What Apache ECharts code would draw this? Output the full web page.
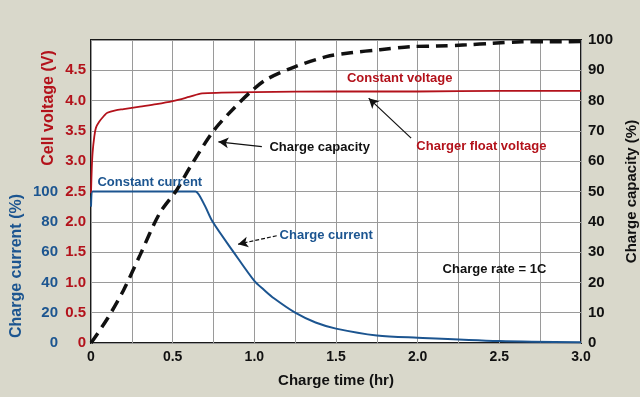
<!DOCTYPE html>
<html>
<head>
<meta charset="utf-8">
<script src="https://cdn.jsdelivr.net/npm/echarts@6/dist/echarts.min.js"></script>
<style>
    html, body { margin: 0; padding: 0; background: #d9d8cb; }
    #chart { width: 640px; height: 397px; }
</style>
</head>
<body>
<div id="chart"></div>
<script>
// cell voltage (V) vs charge time (hr)
const timeV = [0, 0.005, 0.01, 0.02, 0.03, 0.05, 0.08, 0.1, 0.15, 0.2, 0.3, 0.4, 0.5, 0.6, 0.68, 0.8, 1.0, 1.5, 2.0, 2.5, 3.0];
const voltage = [2.47, 2.9, 3.15, 3.4, 3.55, 3.65, 3.75, 3.8, 3.84, 3.86, 3.9, 3.94, 3.99, 4.06, 4.12, 4.13, 4.14, 4.15, 4.15, 4.16, 4.16];

// charge current (%)
const timeI = [0, 0.01, 0.03, 0.64, 0.66, 0.7, 0.745, 0.873, 1.0, 1.06, 1.12, 1.25, 1.375, 1.5, 1.75, 2.0, 2.5, 3.0];
const current = [90, 100, 100, 100, 98, 90, 80, 60, 41, 35, 29.5, 20, 13.5, 9.5, 5, 3.5, 1.3, 0.5];

// charge capacity (%)
const timeC = [0, 0.1, 0.2, 0.3, 0.42, 0.525, 0.606, 0.75, 0.875, 0.99, 1.075, 1.24, 1.44, 1.59, 1.77, 1.95, 2.12, 2.3, 2.46, 2.64, 2.81, 3.0];
const capacity = [0, 8, 17.5, 29, 42.8, 50.5, 58, 70, 77.5, 83.5, 87, 91, 94.5, 95.8, 96.8, 97.8, 98, 98.4, 98.9, 99.4, 99.4, 99.5];

// annotations, in [time, volts]
const notes = [
    {text: "Constant voltage", at: [1.89, 4.36], color: "#b3121b"},
    {text: "Charger float voltage", at: [2.39, 3.25], color: "#b3121b"},
    {text: "Charge capacity", at: [1.40, 3.23], color: "#111"},
    {text: "Constant current", at: [0.36, 2.65], color: "#1c5590"},
    {text: "Charge current", at: [1.44, 1.78], color: "#1c5590"},
    {text: "Charge rate = 1C", at: [2.47, 1.22], color: "#111"},
];
const arrows = [
    {from: [1.96, 3.38], to: [1.70, 4.04], dashed: false},
    {from: [1.046, 3.24], to: [0.78, 3.32], dashed: false},
    {from: [1.137, 1.77], to: [0.90, 1.63], dashed: true},
];

const FONT = "Liberation Sans, Arial, sans-serif";
const RED = "#b3121b";
const BLUE = "#1c5590";

const zip = (xs, ys) => xs.map((x, i) => [x, ys[i]]);
const fmt1 = (v) => (v === 0 ? "0" : v.toFixed(1));

const chart = echarts.init(document.getElementById("chart"));

const option = {
    animation: false,
    backgroundColor: "#d9d8cb",
    grid: {
        left: 91, right: 59, top: 40, bottom: 54,
        outerBoundsMode: "none",
        containLabel: false,
        show: true,
        backgroundColor: "#fff",
        borderColor: "#1a1a1a",
        borderWidth: 2
    },
    xAxis: {
        type: "value",
        min: 0, max: 3, interval: 0.25,
        name: "Charge time (hr)",
        nameLocation: "middle",
        nameGap: 30,
        nameTextStyle: {color: "#111", fontWeight: "bold", fontSize: 15, fontFamily: FONT},
        axisLine: {show: false},
        axisTick: {show: false},
        axisLabel: {
            margin: 7,
            color: "#111", fontWeight: "bold", fontSize: 14, fontFamily: FONT,
            formatter: (v) => (Math.round(v * 100) % 50 === 0 ? fmt1(v) : "")
        },
        splitLine: {show: true, lineStyle: {color: "#9a9a9a", width: 1}}
    },
    yAxis: [
        {
            // cell voltage
            type: "value", position: "left",
            min: 0, max: 5, interval: 0.5,
            axisLine: {show: false},
            axisTick: {show: false},
            axisLabel: {
                margin: 5,
                color: RED, fontWeight: "bold", fontSize: 15, fontFamily: FONT,
                formatter: (v) => (v >= 5 ? "" : fmt1(v))
            },
            splitLine: {show: true, lineStyle: {color: "#9a9a9a", width: 1}}
        },
        {
            // charge current
            type: "value", position: "left", offset: 28,
            min: 0, max: 200, interval: 20,
            axisLine: {show: false},
            axisTick: {show: false},
            axisLabel: {
                margin: 5,
                color: BLUE, fontWeight: "bold", fontSize: 15, fontFamily: FONT,
                formatter: (v) => (v <= 100 ? String(v) : "")
            },
            splitLine: {show: false}
        },
        {
            // charge capacity
            type: "value", position: "right",
            min: 0, max: 100, interval: 10,
            name: "Charge capacity (%)",
            nameLocation: "middle",
            nameGap: 36,
            nameTextStyle: {color: "#111", fontWeight: "bold", fontSize: 15, fontFamily: FONT},
            axisLine: {show: false},
            axisTick: {show: false},
            axisLabel: {
                margin: 7,
                color: "#111", fontWeight: "bold", fontSize: 15, fontFamily: FONT
            },
            splitLine: {show: false}
        }
    ],
    graphic: [
        {
            type: "text", x: 49, y: 108, rotation: Math.PI / 2,
            style: {text: "Cell voltage (V)", fill: RED, font: "bold 16px " + FONT, align: "center", verticalAlign: "middle"}
        },
        {
            type: "text", x: 17, y: 266, rotation: Math.PI / 2,
            style: {text: "Charge current (%)", fill: BLUE, font: "bold 16px " + FONT, align: "center", verticalAlign: "middle"}
        }
    ],
    series: [
        {
            name: "Cell voltage",
            type: "line",
            yAxisIndex: 0,
            data: zip(timeV, voltage),
            smooth: 0.3,
            showSymbol: false,
            lineStyle: {color: RED, width: 1.8},
            markPoint: {
                silent: true,
                symbol: "circle",
                symbolSize: 0,
                data: notes.map((n) => ({
                    coord: n.at,
                    label: {
                        show: true, position: "inside",
                        formatter: n.text,
                        color: n.color, fontWeight: "bold", fontSize: 13, fontFamily: FONT
                    }
                }))
            },
            markLine: {
                silent: true,
                symbol: ["none", "arrow"],
                symbolSize: [8, 10],
                label: {show: false},
                data: arrows.map((a) => [
                    {coord: a.from, lineStyle: {color: "#111", width: 1.2, type: a.dashed ? [4, 2] : "solid"}},
                    {coord: a.to}
                ])
            }
        },
        {
            name: "Charge current",
            type: "line",
            yAxisIndex: 1,
            data: zip(timeI, current),
            smooth: 0.3,
            showSymbol: false,
            lineStyle: {color: BLUE, width: 2}
        },
        {
            name: "Charge capacity",
            type: "line",
            yAxisIndex: 2,
            data: zip(timeC, capacity),
            smooth: 0.3,
            showSymbol: false,
            lineStyle: {color: "#111", width: 3.5, type: [12, 7]}
        }
    ]
};

chart.setOption(option);
</script>
</body>
</html>
